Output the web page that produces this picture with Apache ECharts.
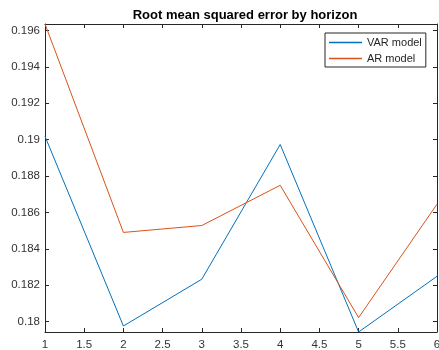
<!DOCTYPE html>
<html>
<head>
<meta charset="utf-8">
<style>
    html, body { margin: 0; padding: 0; background: #fff; }
    #chart { width: 439px; height: 350px; }
</style>
<script src="https://cdn.jsdelivr.net/npm/echarts@6/dist/echarts.min.js"></script>
</head>
<body>
<div id="chart"></div>
<script>
    // data
    var horizons = [1, 2, 3, 4, 5, 6];
    var varModel = [0.19018, 0.17976, 0.18233, 0.18973, 0.17943, 0.18249];
    var arModel = [0.19635, 0.18490, 0.18528, 0.18749, 0.18022, 0.18645];
    var yTicks = [0.18, 0.182, 0.184, 0.186, 0.188, 0.19, 0.192, 0.194, 0.196];

    var axisColor = '#262626';

    function pairs(ys) {
        return horizons.map(function(x, i) {
            return [x, ys[i]];
        });
    }

    var yMin = Math.min.apply(null, varModel.concat(arModel));
    var yMax = Math.max.apply(null, varModel.concat(arModel));

    var myChart = echarts.init(document.getElementById('chart'));

    var xBase = {
        type: 'value',
        min: 1,
        max: 6,
        interval: 0.5,
        axisLine: { show: true, lineStyle: { color: axisColor, width: 1 } },
        axisTick: { show: true, inside: true, length: 4, lineStyle: { color: axisColor } },
        splitLine: { show: false }
    };
    var yBase = {
        type: 'value',
        min: yMin,
        max: yMax,
        axisLine: { show: true, lineStyle: { color: axisColor, width: 1 } },
        axisTick: { show: true, inside: true, length: 4, customValues: yTicks, lineStyle: { color: axisColor } },
        splitLine: { show: false }
    };

    var option = {
        animation: false,
        color: ['#0072BD', '#D95319'],
        title: {
            text: 'Root mean squared error by horizon',
            left: 240,
            textAlign: 'center',
            top: 4,
            textStyle: {
                fontFamily: 'Liberation Sans, Arial, sans-serif',
                fontSize: 13,
                fontWeight: 'bold',
                color: '#000'
            }
        },
        legend: {
            orient: 'vertical',
            left: 325,
            top: 33,
            icon: 'rect',
            itemWidth: 33,
            itemHeight: 1.5,
            itemGap: 3,
            padding: [3, 4, 2, 4],
            borderColor: axisColor,
            borderWidth: 1,
            backgroundColor: '#fff',
            textStyle: {
                fontFamily: 'Liberation Sans, Arial, sans-serif',
                fontSize: 11,
                lineHeight: 13,
                color: axisColor
            }
        },
        grid: {
            left: 45,
            right: 2,
            top: 24,
            bottom: 18,
            containLabel: false,
            outerBoundsMode: 'none'
        },
        xAxis: [
            Object.assign({}, xBase, {
                position: 'bottom',
                axisLabel: {
                    margin: 7,
                    fontFamily: 'Liberation Sans, Arial, sans-serif',
                    fontSize: 11.5,
                    color: '#333',
                    formatter: function(v) { return String(v); }
                }
            }),
            Object.assign({}, xBase, {
                position: 'top',
                axisLabel: { show: false }
            })
        ],
        yAxis: [
            Object.assign({}, yBase, {
                position: 'left',
                axisLabel: {
                    margin: 5,
                    customValues: yTicks,
                    fontFamily: 'Liberation Sans, Arial, sans-serif',
                    fontSize: 11.5,
                    color: '#333',
                    formatter: function(v) { return String(+v.toFixed(3)); }
                }
            }),
            Object.assign({}, yBase, {
                position: 'right',
                axisLabel: { show: false }
            })
        ],
        series: [{
            name: 'VAR model',
            type: 'line',
            data: pairs(varModel),
            showSymbol: false,
            lineStyle: { width: 1 }
        }, {
            name: 'AR model',
            type: 'line',
            data: pairs(arModel),
            showSymbol: false,
            lineStyle: { width: 1 }
        }]
    };
    myChart.setOption(option);
</script>
</body>
</html>
